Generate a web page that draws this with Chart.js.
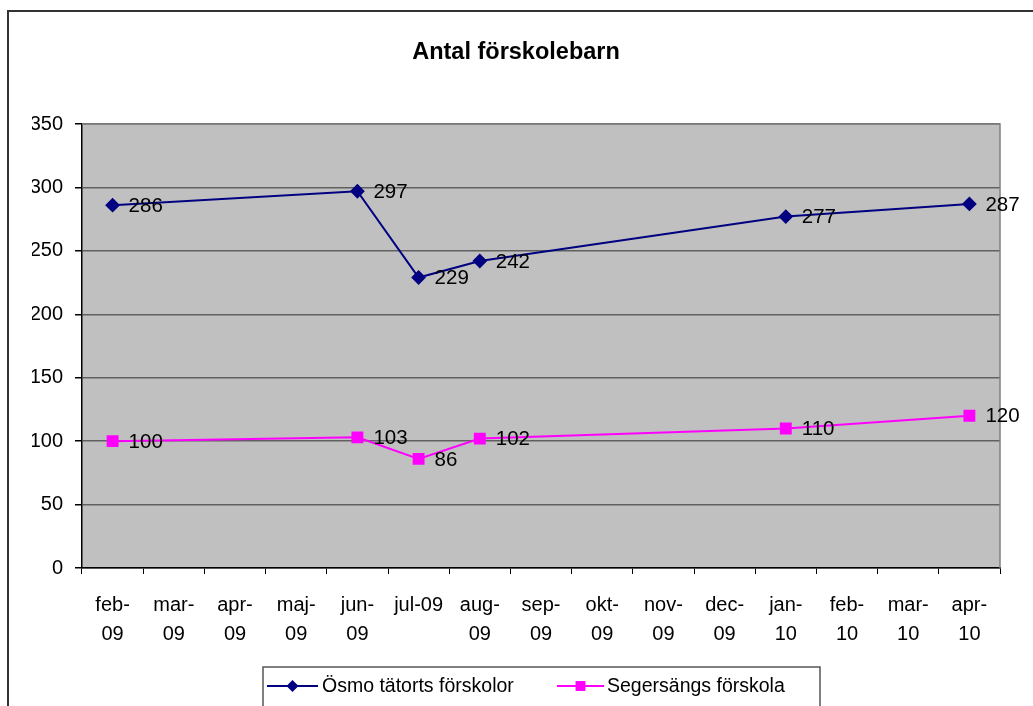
<!DOCTYPE html>
<html>
<head>
<meta charset="utf-8">
<script src="https://cdn.jsdelivr.net/npm/chart.js@4.4.0/dist/chart.umd.min.js"></script>
<style>
html,body{margin:0;padding:0;background:#fff;}
#wrap{width:1033px;height:706px;position:relative;}
</style>
</head>
<body>
<div id="wrap"><canvas id="c" width="1033" height="706"></canvas></div>
<script>
const categories = ["feb-09","mar-09","apr-09","maj-09","jun-09","jul-09","aug-09","sep-09","okt-09","nov-09","dec-09","jan-10","feb-10","mar-10","apr-10"];
const tickLabels = [["feb-","09"],["mar-","09"],["apr-","09"],["maj-","09"],["jun-","09"],"jul-09",["aug-","09"],["sep-","09"],["okt-","09"],["nov-","09"],["dec-","09"],["jan-","10"],["feb-","10"],["mar-","10"],["apr-","10"]];
const seriesNames = ["Ösmo tätorts förskolor","Segersängs förskola"];
const osmoValues = [286,null,null,null,297,229,242,null,null,null,null,277,null,null,287];
const segersangValues = [100,null,null,null,103,86,102,null,null,null,null,110,null,null,120];
const titleText = "Antal förskolebarn";

const FONT = "'Liberation Sans', Arial, sans-serif";

const bgPlugin = {
  id: 'bgPlugin',
  beforeDraw(chart) {
    const {ctx, chartArea: a} = chart;
    ctx.save();
    ctx.fillStyle = '#fff';
    ctx.fillRect(0,0,chart.width,chart.height);
    ctx.strokeStyle = '#333';
    ctx.lineWidth = 2;
    ctx.beginPath();
    ctx.moveTo(8, 720);
    ctx.lineTo(8, 11);
    ctx.lineTo(1040, 11);
    ctx.stroke();
    ctx.fillStyle = '#c0c0c0';
    ctx.fillRect(a.left, a.top, a.right - a.left, a.bottom - a.top);
    ctx.restore();
  },
  afterDatasetsDraw(chart) {
    const {ctx, chartArea: a} = chart;
    ctx.save();
    ctx.strokeStyle = '#808080';
    ctx.lineWidth = 1.5;
    ctx.beginPath();
    ctx.moveTo(a.left, a.top);
    ctx.lineTo(a.right, a.top);
    ctx.lineTo(a.right, a.bottom);
    ctx.stroke();
    ctx.fillStyle = '#000';
    ctx.font = '20.5px ' + FONT;
    ctx.textAlign = 'left';
    ctx.textBaseline = 'middle';
    chart.data.datasets.forEach((ds, i) => {
      const meta = chart.getDatasetMeta(i);
      meta.data.forEach((pt, j) => {
        const v = ds.data[j];
        if (v === null || v === undefined) return;
        ctx.fillText(String(v), pt.x + 16, pt.y + 1);
      });
    });
    const lx = 263, ly = 667, lr = 820;
    ctx.strokeStyle = '#555';
    ctx.lineWidth = 1.5;
    ctx.beginPath();
    ctx.moveTo(lx, 720);
    ctx.lineTo(lx, ly);
    ctx.lineTo(lr, ly);
    ctx.lineTo(lr, 720);
    ctx.stroke();
    const cy = 686;
    const items = [
      {x0: 267, x1: 318, tx: 322},
      {x0: 557, x1: 604, tx: 607}
    ];
    chart.data.datasets.forEach((ds, i) => {
      const it = items[i];
      ctx.strokeStyle = ds.borderColor;
      ctx.lineWidth = 2;
      ctx.beginPath();
      ctx.moveTo(it.x0, cy);
      ctx.lineTo(it.x1, cy);
      ctx.stroke();
      ctx.fillStyle = ds.pointBackgroundColor;
      ctx.beginPath();
      const m = (it.x0 + it.x1) / 2;
      if (ds.pointStyle === 'rectRot') {
        const r = ds.pointRadius;
        ctx.moveTo(m, cy - r); ctx.lineTo(m + r, cy); ctx.lineTo(m, cy + r); ctx.lineTo(m - r, cy); ctx.closePath();
      } else {
        const s = ds.pointRadius * Math.SQRT1_2;
        ctx.rect(m - s, cy - s, 2 * s, 2 * s);
      }
      ctx.fill();
      ctx.fillStyle = '#000';
      ctx.font = '19.5px ' + FONT;
      ctx.textBaseline = 'middle';
      ctx.fillText(ds.label, it.tx, cy + 1);
    });
    ctx.restore();
  }
};

new Chart(document.getElementById('c'), {
  type: 'line',
  data: {
    labels: tickLabels,
    datasets: [
      {
        label: seriesNames[0],
        data: osmoValues,
        borderColor: '#000080',
        backgroundColor: '#000080',
        pointBackgroundColor: '#000080',
        pointBorderColor: '#000080',
        pointStyle: 'rectRot',
        pointRadius: 6,
        pointHoverRadius: 6,
        borderWidth: 2,
        spanGaps: true,
        tension: 0
      },
      {
        label: seriesNames[1],
        data: segersangValues,
        borderColor: '#ff00ff',
        backgroundColor: '#ff00ff',
        pointBackgroundColor: '#ff00ff',
        pointBorderColor: '#ff00ff',
        pointStyle: 'rect',
        pointRadius: 7,
        pointHoverRadius: 7,
        borderWidth: 2,
        spanGaps: true,
        tension: 0
      }
    ]
  },
  options: {
    responsive: false,
    animation: false,
    devicePixelRatio: 1,
    layout: {padding: {left: 32, right: 33, top: 0, bottom: 40}},
    plugins: {
      legend: {display: false},
      tooltip: {enabled: false},
      title: {
        display: true,
        text: titleText,
        color: '#000',
        font: {family: FONT, size: 23.5, weight: 'bold', lineHeight: 1.2},
        padding: {top: 38, bottom: 57.8}
      }
    },
    scales: {
      x: {
        offset: true,
        grid: {
          display: true,
          drawOnChartArea: false,
          drawTicks: true,
          tickLength: 6,
          offset: true,
          color: '#000',
          tickColor: '#000'
        },
        border: {display: true, color: '#000', width: 1.5},
        ticks: {
          color: '#000',
          font: {family: FONT, size: 20, lineHeight: 1.45},
          padding: 17,
          maxRotation: 0,
          minRotation: 0,
          autoSkip: false
        }
      },
      y: {
        min: 0,
        max: 350,
        afterFit(scale) { scale.width = 50; },
        grid: {
          color: '#606060',
          lineWidth: 1.5,
          tickLength: 7,
          tickColor: '#000',
          drawTicks: true
        },
        border: {display: true, color: '#000', width: 1.5},
        ticks: {
          stepSize: 50,
          color: '#000',
          padding: 12,
          font: {family: FONT, size: 20}
        }
      }
    }
  },
  plugins: [bgPlugin]
});
</script>
</body>
</html>
